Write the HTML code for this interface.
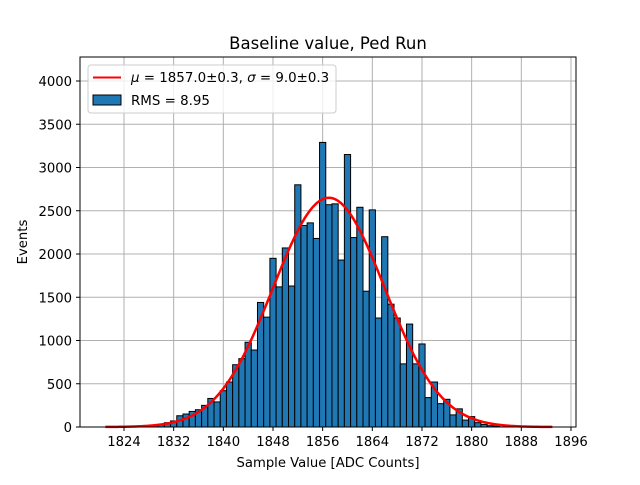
<!DOCTYPE html>
<html><head><meta charset="utf-8"><style>
body{margin:0;background:#fff;}
svg text{font-family:"DejaVu Sans","Liberation Sans",sans-serif;}
</style></head><body>
<svg id="chart" width="640" height="480" xmlns="http://www.w3.org/2000/svg">
<rect width="640" height="480" fill="#fff"/>
<g id="grid"></g>
<g id="bars"></g>
<g id="fit"></g>
<rect x="80" y="57" width="496" height="370" fill="none" stroke="#000" stroke-width="1"/>
<g id="ticks"></g>
<text x="328" y="49" text-anchor="middle" font-size="16.5">Baseline value, Ped Run</text>
<text x="328" y="467" text-anchor="middle" font-size="13.2">Sample Value [ADC Counts]</text>
<text x="27" y="242" text-anchor="middle" font-size="13.2" transform="rotate(-90 27 242)">Events</text>
<g>
<rect x="88" y="65" width="248" height="48" rx="3" fill="#fff" fill-opacity="0.8" stroke="#ccc"/>
<line x1="93" y1="77.5" x2="121" y2="77.5" stroke="red" stroke-width="2"/>
<text x="131" y="82" font-size="13.4"><tspan font-style="italic">μ</tspan> = 1857.0±0.3, <tspan font-style="italic">σ</tspan> = 9.0±0.3</text>
<rect x="93" y="95" width="28" height="10" fill="#1f77b4" stroke="#000"/>
<text x="131" y="105" font-size="13.4">RMS = 8.95</text>
</g>
</svg>
<script>
const binCenters=[1828,1829,1830,1831,1832,1833,1834,1835,1836,1837,1838,1839,1840,1841,1842,1843,1844,1845,1846,1847,1848,1849,1850,1851,1852,1853,1854,1855,1856,1857,1858,1859,1860,1861,1862,1863,1864,1865,1866,1867,1868,1869,1870,1871,1872,1873,1874,1875,1876,1877,1878,1879,1880,1881,1882,1883,1884];
const counts=[10,20,30,50,70,130,150,180,200,250,330,290,420,520,720,790,980,890,1440,1270,1950,1620,2070,1630,2800,2330,2360,2180,3290,2570,2580,1930,3150,2190,2540,1570,2510,1260,2200,1420,1260,730,1190,730,960,340,520,270,320,140,210,80,120,50,30,15,10];
const fitMu=1857.0, fitSigma=9.0, fitAmp=2650;
const xTicks=[1824,1832,1840,1848,1856,1864,1872,1880,1888,1896];
const yTicks=[0,500,1000,1500,2000,2500,3000,3500,4000];
const NS="http://www.w3.org/2000/svg";
const X=v=>124+(v-1824)*6.208;
const Y=v=>427-v*0.0865;
function mk(tag,attrs,parent){const e=document.createElementNS(NS,tag);for(const k in attrs)e.setAttribute(k,attrs[k]);document.getElementById(parent).appendChild(e);return e;}
xTicks.forEach(t=>{
  const g=mk('line',{x1:X(t),x2:X(t),y1:57,y2:427,stroke:'#b0b0b0','stroke-width':1},'grid');
  
  
  const tk=mk('line',{x1:X(t),x2:X(t),y1:427,y2:431,stroke:'#000'},'ticks');
  
  
  const tx=mk('text',{x:X(t),y:446,'text-anchor':'middle','font-size':13.2},'ticks');
  tx.textContent=t;
  
  
});
yTicks.forEach(t=>{
  const g=mk('line',{x1:80,x2:576,y1:Y(t),y2:Y(t),stroke:'#b0b0b0','stroke-width':1},'grid');
  
  
  const tk=mk('line',{x1:76,x2:80,y1:Y(t),y2:Y(t),stroke:'#000'},'ticks');
  
  
  const tx=mk('text',{x:72,y:Y(t)+5,'text-anchor':'end','font-size':13.2},'ticks');
  tx.textContent=t;
  
  
});
binCenters.forEach((c,i)=>{
  const b=mk('rect',{x:X(c-0.5),y:Y(counts[i]),width:6.208,height:Y(0)-Y(counts[i]),fill:'#1f77b4',stroke:'#000','stroke-width':1},'bars');
  
  
});
let d='';
for(let v=1821;v<=1893;v+=0.25){const y=fitAmp*Math.exp(-0.5*((v-fitMu)/fitSigma)**2);d+=(d?'L':'M')+X(v).toFixed(2)+','+Y(y).toFixed(2);}
const p=mk('path',{d:d,fill:'none',stroke:'red','stroke-width':2.5},'fit');


</script>
</body></html>
